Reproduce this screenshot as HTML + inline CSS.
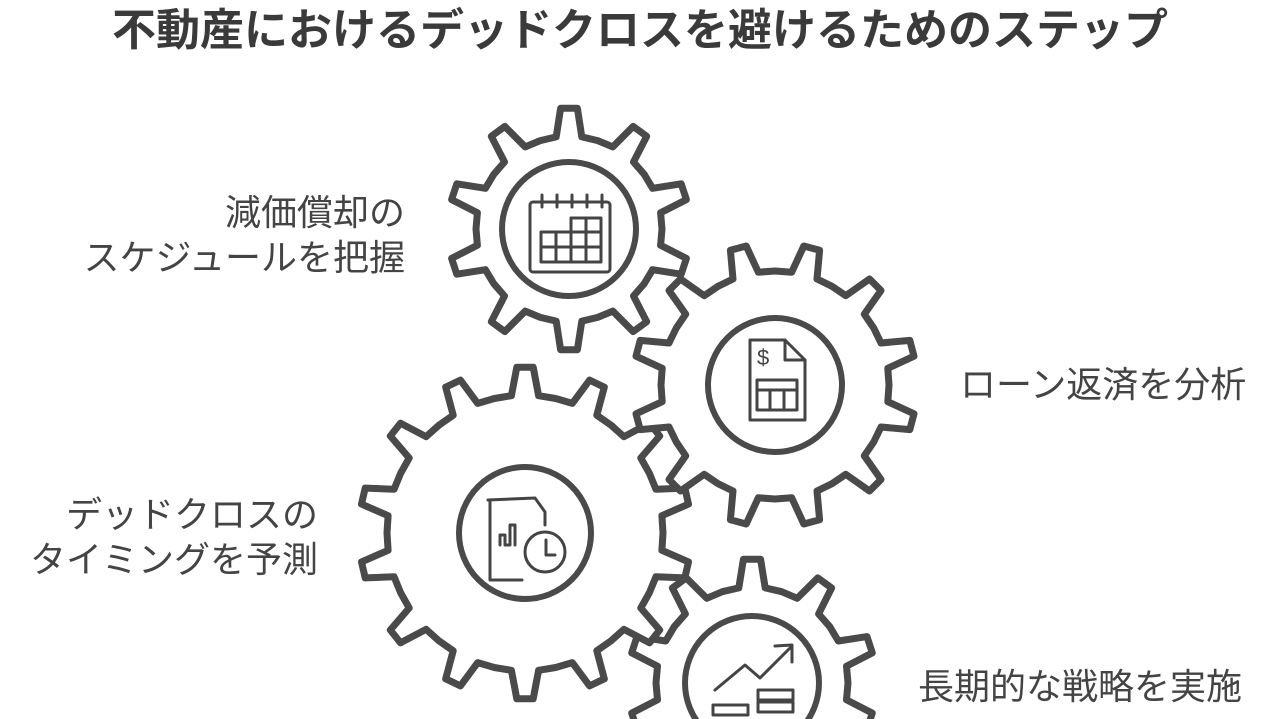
<!DOCTYPE html>
<html><head><meta charset="utf-8"><style>
html,body{margin:0;padding:0;background:#fff;width:1280px;height:719px;overflow:hidden;position:relative;font-family:"Liberation Sans","Noto Sans CJK JP",sans-serif;color:#444}
.t{position:absolute;left:0;width:1280px;text-align:center;top:4px;font-size:44px;line-height:54px;font-weight:bold;color:#3a3a3a;white-space:nowrap}
.l{position:absolute;font-size:36px;line-height:45px;color:#444;white-space:nowrap}
svg{position:absolute;left:0;top:0;display:block}
</style></head><body>
<svg id="s" width="1280" height="719" viewBox="0 0 1280 719"></svg>
<div class="t">不動産におけるデッドクロスを避けるためのステップ</div>
<div class="l" style="right:875px;top:190px;text-align:right">減価償却の<br>スケジュールを把握</div>
<div class="l" style="left:960px;top:362px">ローン返済を分析</div>
<div class="l" style="right:962px;top:492px;text-align:right">デッドクロスの<br>タイミングを予測</div>
<div class="l" style="left:918px;top:664px">長期的な戦略を実施</div>
<script>
var s=document.getElementById('s'),h='';
function gear(cx,cy,R,n,rot,ir){
 var r=R-28,p='',st=2*Math.PI/n;
 for(var i=0;i<n;i++){
  var a=rot*Math.PI/180+i*st;
  var pts=[[r,a-st*0.5],[r,a-st*0.22],[R,a-st*0.11],[R,a+st*0.11],[r,a+st*0.22]];
  pts.forEach(function(q,j){p+=(i==0&&j==0?'M':'L')+(cx+q[0]*Math.cos(q[1])).toFixed(1)+' '+(cy+q[0]*Math.sin(q[1])).toFixed(1)+' ';});
 }
 h+='<path d="'+p+'Z" fill="#fff" stroke="#4a4a4a" stroke-width="7" stroke-linejoin="round"/>';
 h+='<circle cx="'+cx+'" cy="'+cy+'" r="'+ir+'" fill="none" stroke="#4a4a4a" stroke-width="6"/>';
}
gear(752,683,124,10,-90,67);
gear(525,533,166,14,-90,66);
gear(775,385,142,12,-75,67);
gear(569,229,121,10,-90,67);
var g='fill="none" stroke="#444" stroke-width="3" stroke-linejoin="round" stroke-linecap="round"';
h+='<g '+g+'><rect x="530" y="202" width="80" height="70" rx="3"/>';
for(var i=0;i<5;i++){h+='<line x1="'+(542+i*15)+'" y1="195" x2="'+(542+i*15)+'" y2="207"/>';}
h+='<rect x="541" y="232" width="60" height="30"/><line x1="541" y1="247" x2="601" y2="247"/><line x1="556" y1="232" x2="556" y2="262"/><line x1="571" y1="218" x2="571" y2="262"/><line x1="586" y1="218" x2="586" y2="262"/><rect x="571" y="218" width="30" height="14"/></g>';
h+='<g '+g+'><path d="M750 340 L785 340 L805 360 L805 420 L750 420 Z"/><path d="M785 340 L785 360 L805 360"/><text x="757" y="365" font-size="22" fill="#444" stroke="none" font-family="Liberation Sans">$</text><rect x="757" y="380" width="40" height="30"/><line x1="757" y1="390" x2="797" y2="390"/><line x1="770" y1="390" x2="770" y2="410"/><line x1="784" y1="390" x2="784" y2="410"/></g>';
h+='<g '+g+'><path d="M488 500 L535 498 L545 512 L545 525"/><path d="M490 500 L490 580 L522 580"/><path d="M500 545 L500 535 L505 535 L505 545 L510 545 L510 525 L515 525 L515 545"/><circle cx="545" cy="552" r="20"/><path d="M546 540 L546 555 L555 555"/></g>';
h+='<g '+g+'><path d="M715 690 L745 665 L760 678 L790 648"/><path d="M775 646 L792 645 L792 662"/><rect x="713" y="705" width="35" height="10"/><rect x="758" y="690" width="35" height="10"/><rect x="758" y="702" width="35" height="10"/></g>';
s.innerHTML=h;
</script>
</body></html>
